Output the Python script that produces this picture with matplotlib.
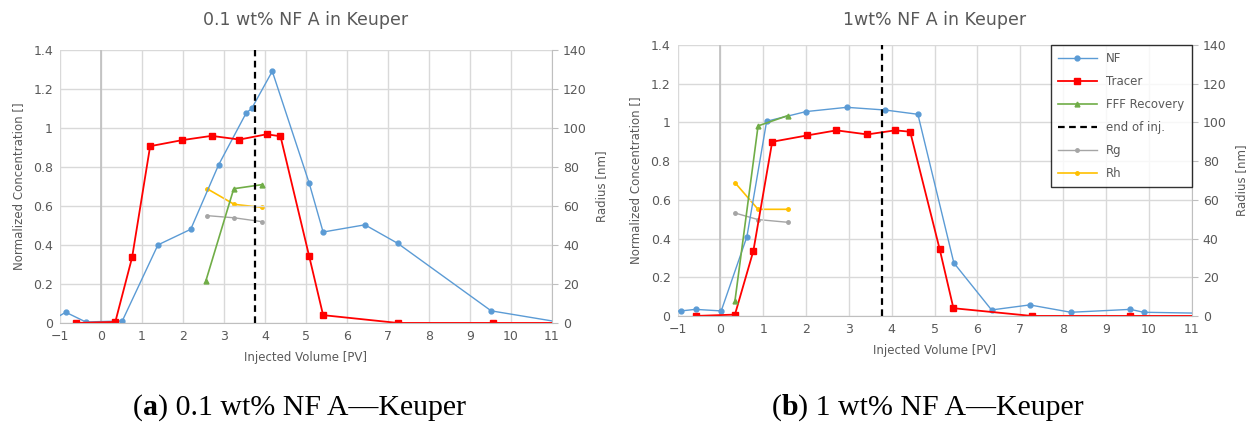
import numpy as np
import matplotlib
matplotlib.use('Agg')
import matplotlib.pyplot as plt

# ---- data: 0.1 wt% NF A (left)
nf_a_x = [-1.3, -0.86, -0.37, 0.52, 1.39, 2.19, 2.87, 3.54, 3.68, 4.18, 5.08, 5.42, 6.44, 7.24, 9.52, 11.3]
nf_a_y = [0.0, 0.055, 0.005, 0.01, 0.40, 0.48, 0.81, 1.075, 1.10, 1.29, 0.717, 0.466, 0.503, 0.408, 0.062, 0.0]
tr_a_x = [-0.60, 0.35, 0.76, 1.20, 1.98, 2.70, 3.38, 4.04, 4.38, 5.08, 5.42, 7.24, 9.56, 11.5]
tr_a_y = [0.0, 0.005, 0.336, 0.906, 0.937, 0.959, 0.94, 0.967, 0.957, 0.342, 0.04, 0.0, 0.0, 0.0]
fff_a_x = [2.56, 3.24, 3.93]
fff_a_y = [0.216, 0.688, 0.709]
rad_a_x = [2.59, 3.25, 3.93]
rg_a = [55.0, 53.9, 51.9]
rh_a = [68.8, 60.8, 59.2]
inj_a = 3.76

# ---- data: 1 wt% NF A (right)
nf_b_x = [-1.3, -0.92, -0.58, 0.02, 0.62, 1.08, 2.0, 2.95, 3.85, 4.61, 5.45, 6.33, 7.22, 8.18, 9.57, 9.88, 11.3]
nf_b_y = [0.02, 0.026, 0.034, 0.026, 0.41, 1.006, 1.056, 1.078, 1.064, 1.042, 0.274, 0.031, 0.057, 0.019, 0.034, 0.019, 0.014]
tr_b_x = [-0.58, 0.34, 0.77, 1.21, 2.03, 2.71, 3.43, 4.08, 4.43, 5.12, 5.44, 7.27, 9.57, 11.5]
tr_b_y = [0.0, 0.007, 0.336, 0.90, 0.933, 0.959, 0.938, 0.959, 0.952, 0.344, 0.040, 0.0, 0.0, 0.0]
fff_b_x = [0.34, 0.88, 1.57]
fff_b_y = [0.077, 0.982, 1.035]
rad_b_x = [0.34, 0.88, 1.57]
rg_b = [53.2, 49.8, 48.4]
rh_b = [68.9, 55.1, 55.1]
inj_b = 3.77

BLUE = '#5B9BD5'
RED = '#FF0000'
GREEN = '#70AD47'
GRAY = '#A5A5A5'
YELLOW = '#FFC000'
TXT = '#595959'
GRID = '#D9D9D9'

plt.rcParams['font.family'] = 'DejaVu Sans'

fig = plt.figure(figsize=(12.57, 4.37), dpi=100)


def draw(rect, title, nfx, nfy, trx, tr_y, fx, fy, rx, rg, rh, inj, legend):
    ax = fig.add_axes(rect)
    ax2 = ax.twinx()
    ax.set_zorder(ax2.get_zorder() + 1)
    ax.patch.set_visible(False)

    ax.set_xlim(-1, 11)
    ax.set_ylim(0, 1.4)
    ax2.set_ylim(0, 140)
    ax.set_xticks(np.arange(-1, 12, 1))
    ax.set_yticks(np.arange(0, 1.41, 0.2))
    ax.set_yticklabels(['0', '0.2', '0.4', '0.6', '0.8', '1', '1.2', '1.4'])
    ax.set_xticklabels(['\u22121'] + [str(i) for i in range(0, 12)])
    ax2.set_yticks(np.arange(0, 141, 20))
    ax.grid(True, color=GRID, lw=1)
    ax.set_axisbelow(True)
    ax.axvline(0, color='#BFBFBF', lw=1.2, zorder=1)

    for a in (ax, ax2):
        for s in a.spines.values():
            s.set_visible(False)
    ax.spines['bottom'].set_visible(True)
    ax.spines['bottom'].set_color('#BFBFBF')
    ax2.spines['right'].set_visible(True)
    ax2.spines['right'].set_color('#BFBFBF')
    ax.tick_params(axis='both', length=0, colors=TXT, labelsize=9, pad=5)
    ax2.tick_params(axis='y', length=4, color='#BFBFBF', labelcolor=TXT, labelsize=9, pad=4)

    ax2.plot(rx, rg, color=GRAY, lw=1, marker='o', ms=2.5, label='Rg')
    ax2.plot(rx, rh, color=YELLOW, lw=1.2, marker='o', ms=2.5, label='Rh')

    l1, = ax.plot(nfx, nfy, color=BLUE, lw=1, marker='o', ms=3.5, label='NF')
    l2, = ax.plot(trx, tr_y, color=RED, lw=1.3, marker='s', ms=4.5, label='Tracer')
    l3, = ax.plot(fx, fy, color=GREEN, lw=1.2, marker='^', ms=3.5, label='FFF Recovery')
    l4 = ax.axvline(inj, color='black', lw=1.6, ls=(0, (3, 2)), label='end of inj.')

    # title placed in figure coordinates, centred over the plot area
    fig.text(rect[0] + rect[2] / 2, 0.955, title, color=TXT, fontsize=12.5,
             ha='center', va='center')
    ax.set_xlabel('Injected Volume [PV]', color=TXT, fontsize=8.5, labelpad=6)
    ax.set_ylabel('Normalized Concentration []', color=TXT, fontsize=8.5, labelpad=6)
    ax2.set_ylabel('Radius [nm]', color=TXT, fontsize=8.5, labelpad=6)

    if legend:
        h = [l1, l2, l3, l4] + ax2.get_lines()
        leg = ax.legend(handles=h, loc='upper right', bbox_to_anchor=(1.0, 1.0),
                        fontsize=8.5, frameon=True, fancybox=False, handlelength=3.3,
                        labelspacing=0.85, borderpad=0.6, borderaxespad=0.0)
        leg.get_frame().set_edgecolor('black')
        leg.get_frame().set_linewidth(1.0)
        for t in leg.get_texts():
            t.set_color(TXT)
    return ax


draw([0.0477, 0.261, 0.3913, 0.625], '0.1 wt% NF A in Keuper',
     nf_a_x, nf_a_y, tr_a_x, tr_a_y, fff_a_x, fff_a_y, rad_a_x, rg_a, rh_a, inj_a, False)
draw([0.539, 0.277, 0.409, 0.620], '1wt% NF A in Keuper',
     nf_b_x, nf_b_y, tr_b_x, tr_b_y, fff_b_x, fff_b_y, rad_b_x, rg_b, rh_b, inj_b, True)

serif = 'Liberation Serif'


# caption: bold letter between normal text pieces, centred at xc
def caption(xc, letter, rest):
    fig.canvas.draw()
    r = fig.canvas.get_renderer()
    parts = [('(', 'normal'), (letter, 'bold'), (') ' + rest, 'normal')]
    texts = [fig.text(0, 0.068, p, fontsize=21.5, family=serif, weight=w, va='center', color='black')
             for p, w in parts]
    widths = [t.get_window_extent(renderer=r).width / fig.bbox.width for t in texts]
    x = xc - sum(widths) / 2
    for t, w in zip(texts, widths):
        t.set_x(x)
        x += w


caption(0.238, 'a', '0.1 wt% NF A\u2014Keuper')
caption(0.738, 'b', '1 wt% NF A\u2014Keuper')

fig.savefig('out.png', dpi=100)
